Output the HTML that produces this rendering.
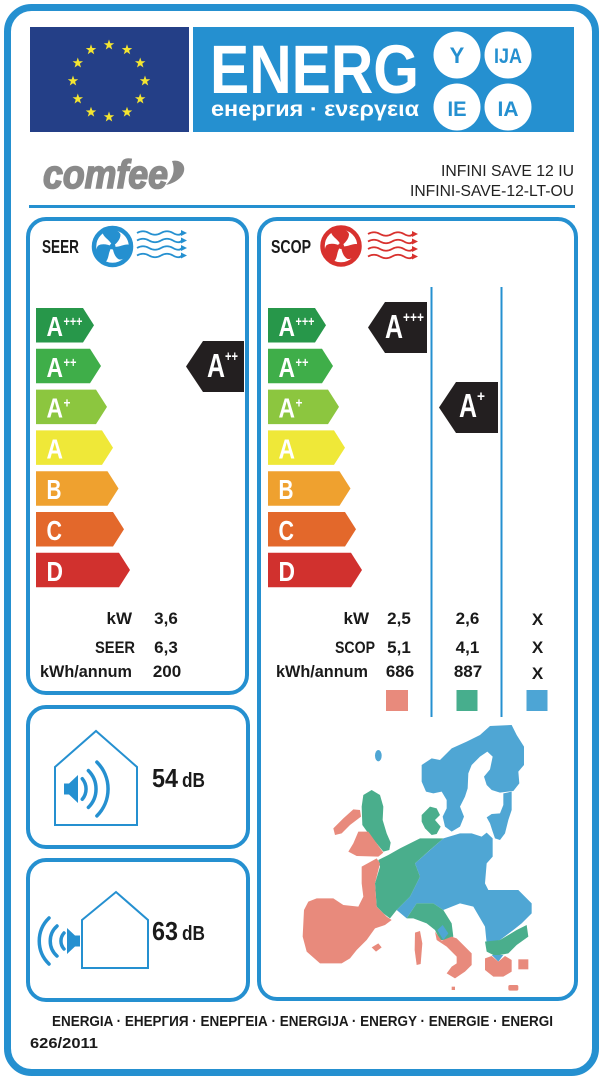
<!DOCTYPE html>
<html><head><meta charset="utf-8"><style>
html,body{margin:0;padding:0;background:#fff;}
svg{display:block;}
text{font-family:"Liberation Sans",sans-serif;}
</style></head><body>
<svg width="605" height="1080" viewBox="0 0 605 1080" xmlns="http://www.w3.org/2000/svg">
<defs>
<polygon id="st" points="0,-5.5 1.29,-1.78 5.23,-1.7 2.09,0.68 3.23,4.45 0,2.2 -3.23,4.45 -2.09,0.68 -5.23,-1.7 -1.29,-1.78" fill="#f4e531"/>
</defs>
<rect width="605" height="1080" fill="#fff"/>
<rect x="7.5" y="7.5" width="588" height="1065" rx="24" fill="none" stroke="#2590d0" stroke-width="7"/>

<!-- EU flag -->
<rect x="30" y="27" width="159" height="105" fill="#243f87"/>
<use href="#st" x="109" y="45"/><use href="#st" x="127" y="49.8"/><use href="#st" x="140.2" y="63"/>
<use href="#st" x="145" y="81"/><use href="#st" x="140.2" y="99"/><use href="#st" x="127" y="112.2"/>
<use href="#st" x="109" y="117"/><use href="#st" x="91" y="112.2"/><use href="#st" x="77.8" y="99"/>
<use href="#st" x="73" y="81"/><use href="#st" x="77.8" y="63"/><use href="#st" x="91" y="49.8"/>

<!-- ENERG box -->
<rect x="193" y="27" width="381" height="105" fill="#2590d0"/>
<text x="210" y="93" font-size="69" font-weight="bold" fill="#fff" textLength="209" lengthAdjust="spacingAndGlyphs">ENERG</text>
<text x="211" y="116" font-size="21" font-weight="bold" fill="#fff" textLength="208" lengthAdjust="spacingAndGlyphs">енергия · ενεργεια</text>
<circle cx="457" cy="55" r="23.5" fill="#fff"/>
<circle cx="508" cy="55" r="23.5" fill="#fff"/>
<circle cx="457" cy="107" r="23.5" fill="#fff"/>
<circle cx="508" cy="107" r="23.5" fill="#fff"/>
<text x="457" y="63" font-size="22" font-weight="bold" fill="#2590d0" text-anchor="middle">Y</text>
<text x="494" y="63" font-size="21" font-weight="bold" fill="#2590d0" textLength="28" lengthAdjust="spacingAndGlyphs">IJA</text>
<text x="447.5" y="116" font-size="21" font-weight="bold" fill="#2590d0" textLength="19" lengthAdjust="spacingAndGlyphs">IE</text>
<text x="497.5" y="116" font-size="21" font-weight="bold" fill="#2590d0" textLength="21" lengthAdjust="spacingAndGlyphs">IA</text>

<!-- brand -->
<text x="43" y="188" font-size="40" font-weight="bold" font-style="italic" fill="#8a8a8a" stroke="#8a8a8a" stroke-width="1.6" textLength="125" lengthAdjust="spacingAndGlyphs">comfee</text>
<path d="M172,161 C181,159 187,166 183,174 C179,181 171,184 166,185 C172,179 176,172 172,161 Z" fill="#8a8a8a"/>
<text x="441" y="176" font-size="15.5" fill="#222" textLength="133" lengthAdjust="spacingAndGlyphs">INFINI SAVE 12 IU</text>
<text x="410" y="196" font-size="15.5" fill="#222" textLength="164" lengthAdjust="spacingAndGlyphs">INFINI-SAVE-12-LT-OU</text>
<line x1="29" y1="206.5" x2="575" y2="206.5" stroke="#2590d0" stroke-width="3"/>

<!-- panels -->
<rect x="28" y="219" width="219" height="474" rx="18" fill="none" stroke="#2590d0" stroke-width="4"/>
<rect x="259" y="219" width="317" height="780" rx="18" fill="none" stroke="#2590d0" stroke-width="4"/>
<rect x="28" y="707" width="220" height="140" rx="18" fill="none" stroke="#2590d0" stroke-width="4"/>
<rect x="28" y="860" width="220" height="140" rx="18" fill="none" stroke="#2590d0" stroke-width="4"/>

<!-- SEER header -->
<text x="42" y="253" font-size="18" font-weight="bold" fill="#1a1a1a" textLength="37" lengthAdjust="spacingAndGlyphs">SEER</text>
<g transform="translate(112.5,246.5)" fill="#2590d0">
<circle r="18.5" fill="none" stroke="#2590d0" stroke-width="4.5"/>
<path d="M0,0 C-2,-7 -10,-9 -10,-15 C-5,-19 6,-18 8,-12 C8,-7 4,-3 0,0 Z"/>
<path d="M0,0 C-2,-7 -10,-9 -10,-15 C-5,-19 6,-18 8,-12 C8,-7 4,-3 0,0 Z" transform="rotate(120)"/>
<path d="M0,0 C-2,-7 -10,-9 -10,-15 C-5,-19 6,-18 8,-12 C8,-7 4,-3 0,0 Z" transform="rotate(240)"/>
<circle r="3"/>
</g>
<g fill="none" stroke="#2590d0" stroke-width="1.8">
<path d="M137,233 q6,-3.5 12,0 t12,0 t12,0 t9,0"/>
<path d="M137,240.5 q6,-3.5 12,0 t12,0 t12,0 t9,0"/>
<path d="M137,248 q6,-3.5 12,0 t12,0 t12,0 t9,0"/>
<path d="M137,255.5 q6,-3.5 12,0 t12,0 t12,0 t9,0"/>
</g>
<g fill="#2590d0">
<polygon points="181,230 187,233 181,236"/><polygon points="181,237.5 187,240.5 181,243.5"/>
<polygon points="181,245 187,248 181,251"/><polygon points="181,252.5 187,255.5 181,258.5"/>
</g>

<!-- SEER scale -->
<g>
<polygon points="36,308 83,308 94,325.3 83,342.5 36,342.5" fill="#27974a"/>
<polygon points="36,348.8 90,348.8 101,366 90,383.3 36,383.3" fill="#3fae49"/>
<polygon points="36,389.6 96,389.6 107,406.9 96,424.1 36,424.1" fill="#8cc63f"/>
<polygon points="36,430.4 102,430.4 113,447.7 102,464.9 36,464.9" fill="#efe838"/>
<polygon points="36,471.2 107.5,471.2 118.5,488.5 107.5,505.7 36,505.7" fill="#efa12f"/>
<polygon points="36,512 113,512 124,529.3 113,546.5 36,546.5" fill="#e3682b"/>
<polygon points="36,552.8 119,552.8 130,570 119,587.3 36,587.3" fill="#d1312e"/>
<g fill="#fff" font-weight="bold">
<text x="46.5" y="336" font-size="28" textLength="16.5" lengthAdjust="spacingAndGlyphs">A</text>
<text x="63.5" y="326" font-size="14" textLength="19" lengthAdjust="spacingAndGlyphs">+++</text>
<text x="46.5" y="376.8" font-size="28" textLength="16.5" lengthAdjust="spacingAndGlyphs">A</text>
<text x="63.5" y="366.8" font-size="14" textLength="13" lengthAdjust="spacingAndGlyphs">++</text>
<text x="46.5" y="417.6" font-size="28" textLength="16.5" lengthAdjust="spacingAndGlyphs">A</text>
<text x="63.5" y="407.6" font-size="14" textLength="7" lengthAdjust="spacingAndGlyphs">+</text>
<text x="46.5" y="458.4" font-size="28" textLength="16.5" lengthAdjust="spacingAndGlyphs">A</text>
<text x="46.5" y="499.2" font-size="28" textLength="15" lengthAdjust="spacingAndGlyphs">B</text>
<text x="46.5" y="540" font-size="28" textLength="15.5" lengthAdjust="spacingAndGlyphs">C</text>
<text x="46.5" y="580.8" font-size="28" textLength="16.5" lengthAdjust="spacingAndGlyphs">D</text>
</g>
</g>
<polygon points="186,366.5 203,341 244,341 244,392 203,392" fill="#231f20"/>
<text x="207" y="377" font-size="33" font-weight="bold" fill="#fff" textLength="18" lengthAdjust="spacingAndGlyphs">A</text>
<text x="225" y="361" font-size="15" font-weight="bold" fill="#fff" textLength="13" lengthAdjust="spacingAndGlyphs">++</text>

<!-- SEER data -->
<g font-size="17" font-weight="bold" fill="#1a1a1a">
<text x="132" y="624" text-anchor="end">kW</text>
<text x="135" y="653" text-anchor="end" textLength="40" lengthAdjust="spacingAndGlyphs">SEER</text>
<text x="40" y="677" textLength="92" lengthAdjust="spacingAndGlyphs">kWh/annum</text>
<text x="166" y="624" text-anchor="middle">3,6</text>
<text x="166" y="653" text-anchor="middle">6,3</text>
<text x="167" y="677" text-anchor="middle">200</text>
</g>

<!-- SCOP header -->
<text x="271" y="253" font-size="18" font-weight="bold" fill="#1a1a1a" textLength="40" lengthAdjust="spacingAndGlyphs">SCOP</text>
<g transform="translate(341,246)" fill="#d8312e">
<circle r="18.5" fill="none" stroke="#d8312e" stroke-width="4.5"/>
<path d="M0,0 C-2,-7 -10,-9 -10,-15 C-5,-19 6,-18 8,-12 C8,-7 4,-3 0,0 Z"/>
<path d="M0,0 C-2,-7 -10,-9 -10,-15 C-5,-19 6,-18 8,-12 C8,-7 4,-3 0,0 Z" transform="rotate(120)"/>
<path d="M0,0 C-2,-7 -10,-9 -10,-15 C-5,-19 6,-18 8,-12 C8,-7 4,-3 0,0 Z" transform="rotate(240)"/>
<circle r="3"/>
</g>
<g fill="none" stroke="#d8312e" stroke-width="1.8">
<path d="M368,234 q6,-3.5 12,0 t12,0 t12,0 t9,0"/>
<path d="M368,241.5 q6,-3.5 12,0 t12,0 t12,0 t9,0"/>
<path d="M368,249 q6,-3.5 12,0 t12,0 t12,0 t9,0"/>
<path d="M368,256.5 q6,-3.5 12,0 t12,0 t12,0 t9,0"/>
</g>
<g fill="#d8312e">
<polygon points="412,231 418,234 412,237"/><polygon points="412,238.5 418,241.5 412,244.5"/>
<polygon points="412,246 418,249 412,252"/><polygon points="412,253.5 418,256.5 412,259.5"/>
</g>

<!-- SCOP scale -->
<g transform="translate(232,0)">
<polygon points="36,308 83,308 94,325.3 83,342.5 36,342.5" fill="#27974a"/>
<polygon points="36,348.8 90,348.8 101,366 90,383.3 36,383.3" fill="#3fae49"/>
<polygon points="36,389.6 96,389.6 107,406.9 96,424.1 36,424.1" fill="#8cc63f"/>
<polygon points="36,430.4 102,430.4 113,447.7 102,464.9 36,464.9" fill="#efe838"/>
<polygon points="36,471.2 107.5,471.2 118.5,488.5 107.5,505.7 36,505.7" fill="#efa12f"/>
<polygon points="36,512 113,512 124,529.3 113,546.5 36,546.5" fill="#e3682b"/>
<polygon points="36,552.8 119,552.8 130,570 119,587.3 36,587.3" fill="#d1312e"/>
<g fill="#fff" font-weight="bold">
<text x="46.5" y="336" font-size="28" textLength="16.5" lengthAdjust="spacingAndGlyphs">A</text>
<text x="63.5" y="326" font-size="14" textLength="19" lengthAdjust="spacingAndGlyphs">+++</text>
<text x="46.5" y="376.8" font-size="28" textLength="16.5" lengthAdjust="spacingAndGlyphs">A</text>
<text x="63.5" y="366.8" font-size="14" textLength="13" lengthAdjust="spacingAndGlyphs">++</text>
<text x="46.5" y="417.6" font-size="28" textLength="16.5" lengthAdjust="spacingAndGlyphs">A</text>
<text x="63.5" y="407.6" font-size="14" textLength="7" lengthAdjust="spacingAndGlyphs">+</text>
<text x="46.5" y="458.4" font-size="28" textLength="16.5" lengthAdjust="spacingAndGlyphs">A</text>
<text x="46.5" y="499.2" font-size="28" textLength="15" lengthAdjust="spacingAndGlyphs">B</text>
<text x="46.5" y="540" font-size="28" textLength="15.5" lengthAdjust="spacingAndGlyphs">C</text>
<text x="46.5" y="580.8" font-size="28" textLength="16.5" lengthAdjust="spacingAndGlyphs">D</text>
</g>
</g>
<line x1="431.5" y1="287" x2="431.5" y2="717" stroke="#2590d0" stroke-width="2"/>
<line x1="501.5" y1="287" x2="501.5" y2="717" stroke="#2590d0" stroke-width="2"/>
<polygon points="368,327.5 385,302 427,302 427,353 385,353" fill="#231f20"/>
<text x="385" y="338" font-size="33" font-weight="bold" fill="#fff" textLength="18" lengthAdjust="spacingAndGlyphs">A</text>
<text x="403" y="322" font-size="15" font-weight="bold" fill="#fff" textLength="21" lengthAdjust="spacingAndGlyphs">+++</text>
<polygon points="439,407.5 456,382 498,382 498,433 456,433" fill="#231f20"/>
<text x="459" y="417" font-size="33" font-weight="bold" fill="#fff" textLength="18" lengthAdjust="spacingAndGlyphs">A</text>
<text x="477" y="401" font-size="15" font-weight="bold" fill="#fff" textLength="8" lengthAdjust="spacingAndGlyphs">+</text>

<!-- SCOP data -->
<g font-size="17" font-weight="bold" fill="#1a1a1a">
<text x="369" y="624" text-anchor="end">kW</text>
<text x="375" y="653" text-anchor="end" textLength="40" lengthAdjust="spacingAndGlyphs">SCOP</text>
<text x="276" y="677" textLength="92" lengthAdjust="spacingAndGlyphs">kWh/annum</text>
<text x="399" y="624" text-anchor="middle">2,5</text>
<text x="399" y="653" text-anchor="middle">5,1</text>
<text x="400" y="677" text-anchor="middle">686</text>
<text x="467.5" y="624" text-anchor="middle">2,6</text>
<text x="467.5" y="653" text-anchor="middle">4,1</text>
<text x="468" y="677" text-anchor="middle">887</text>
<text x="537.5" y="625" text-anchor="middle">X</text>
<text x="537.5" y="653" text-anchor="middle">X</text>
<text x="537.5" y="679" text-anchor="middle">X</text>
</g>
<rect x="386" y="690" width="22" height="21" fill="#e88a7c"/>
<rect x="456.5" y="690" width="21" height="21" fill="#47ae8d"/>
<rect x="526.5" y="690" width="21" height="21" fill="#4da5d5"/>

<!-- map -->
<g transform="translate(300,710) scale(0.33333)">
<g fill="#4fa6d4">
<ellipse cx="235" cy="137" rx="10" ry="17"/>
<path d="M365,165 L395,145 L420,150 L455,115 L500,95 L540,75 L570,48 L635,45 L650,75 L672,110 L672,165 L655,185 L658,220 L640,243 L600,248 L575,240 L560,225 L552,200 L570,178 L578,140 L562,125 L540,140 L515,165 L505,190 L503,235 L495,260 L480,290 L492,320 L480,350 L455,365 L435,350 L428,320 L440,295 L440,270 L425,245 L400,250 L378,245 L365,215 Z"/>
<path d="M610,250 L635,245 L635,300 L625,330 L615,370 L600,390 L585,385 L578,365 L570,340 L560,322 L575,312 L600,310 L610,285 Z"/>
<path d="M430,385 L480,370 L515,370 L545,380 L560,368 L578,385 L578,440 L560,460 L555,520 L565,540 L655,540 L695,580 L695,610 L665,640 L640,660 L600,690 L560,700 L555,650 L520,590 L480,580 L430,600 L400,580 L350,580 L320,625 L290,600 L330,560 L360,500 L345,460 Z"/>
<path d="M575,735 L610,735 L595,755 Z"/>
</g>
<g fill="#4aae8c">
<path d="M190,255 L215,240 L240,255 L250,290 L248,330 L260,370 L272,398 L268,420 L250,425 L230,400 L205,370 L187,345 L185,290 Z"/>
<path d="M365,315 L390,290 L410,295 L420,315 L405,330 L422,350 L410,372 L395,375 L375,355 L365,335 Z"/>
<path d="M235,450 L265,435 L300,415 L360,385 L430,385 L390,420 L345,460 L360,500 L330,560 L290,600 L270,625 L250,610 L230,590 L225,520 L240,470 Z"/>
<path d="M320,625 L350,580 L400,580 L430,600 L455,640 L460,680 L440,690 L420,690 L405,660 L380,640 L340,625 Z"/>
<path d="M555,695 L600,690 L650,660 L680,645 L685,680 L650,705 L625,730 L600,735 L580,735 L560,725 Z"/>
<path d="M72,625 L92,608 L108,610 L130,645 L128,665 L110,668 L88,650 Z"/>
<path d="M165,620 L180,605 L195,607 L205,630 L195,642 L178,640 Z"/>
<path d="M100,690 L118,670 L138,690 L125,710 L103,708 Z"/>
</g>
<path d="M412,660 L428,645 L445,670 L430,690 Z" fill="#4fa6d4"/>
<g fill="#e88a7c">
<path d="M100,355 L130,325 L160,298 L180,300 L183,320 L150,345 L125,370 L105,375 Z"/>
<path d="M145,425 L160,400 L175,365 L205,365 L230,400 L250,428 L235,440 L170,438 Z"/>
<path d="M185,470 L230,445 L240,460 L225,520 L230,590 L260,620 L275,630 L255,645 L225,655 L200,690 L170,720 L150,745 L125,760 L60,760 L20,725 L8,680 L12,600 L25,575 L50,565 L100,565 L130,585 L175,590 L190,560 L185,520 Z"/>
<path d="M405,665 L425,692 L455,680 L470,685 L515,730 L515,765 L495,785 L465,805 L440,790 L455,770 L470,760 L470,740 L440,710 L410,690 Z"/>
<path d="M345,668 L360,663 L367,700 L362,762 L350,765 L344,720 Z"/>
<path d="M215,712 L235,700 L245,712 L228,725 Z"/>
<path d="M555,745 L575,738 L595,755 L615,738 L635,750 L635,785 L610,800 L580,800 L555,780 Z"/>
<rect x="655" y="748" width="30" height="30"/>
<rect x="625" y="825" width="30" height="17" rx="5"/>
<rect x="455" y="830" width="10" height="10"/>
</g>
</g>

<!-- noise panel 1 -->
<polygon points="55,767 96,731 137,767 137,825 55,825" fill="none" stroke="#2590d0" stroke-width="2"/>
<polygon points="64,783.5 69,783.5 78,775 78,803 69,794.5 64,794.5" fill="#2590d0"/>
<g fill="none" stroke="#2590d0" stroke-width="3.5" stroke-linecap="round">
<path d="M82.3,778.7 A16,16 0 0 1 82.3,799.3"/>
<path d="M88.4,770.6 A26,26 0 0 1 88.4,807.4"/>
<path d="M96.9,762.1 A38,38 0 0 1 96.9,815.9"/>
</g>
<text x="152" y="787" font-size="26" font-weight="bold" fill="#1a1a1a" textLength="26" lengthAdjust="spacingAndGlyphs">54</text>
<text x="182" y="787" font-size="20" font-weight="bold" fill="#1a1a1a" textLength="23" lengthAdjust="spacingAndGlyphs">dB</text>

<!-- noise panel 2 -->
<polygon points="82,920 116,892 148,920 148,968 82,968" fill="none" stroke="#2590d0" stroke-width="2"/>
<polygon points="80,935.5 75,935.5 67,928 67,954 75,946.5 80,946.5" fill="#2590d0"/>
<g fill="none" stroke="#2590d0" stroke-width="3.5" stroke-linecap="round">
<path d="M64,933 A12,12 0 0 0 64,949"/>
<path d="M57,926 A20,20 0 0 0 57,956"/>
<path d="M49,918 A32,32 0 0 0 49,964"/>
</g>
<text x="152" y="940" font-size="26" font-weight="bold" fill="#1a1a1a" textLength="26" lengthAdjust="spacingAndGlyphs">63</text>
<text x="182" y="940" font-size="20" font-weight="bold" fill="#1a1a1a" textLength="23" lengthAdjust="spacingAndGlyphs">dB</text>

<!-- footer -->
<text x="52" y="1026" font-size="15" font-weight="bold" fill="#1a1a1a" textLength="501" lengthAdjust="spacingAndGlyphs">ENERGIA · ЕНЕРГИЯ · ΕΝΕΡΓΕΙΑ · ENERGIJA · ENERGY · ENERGIE · ENERGI</text>
<text x="30" y="1048" font-size="15" font-weight="bold" fill="#1a1a1a" textLength="68" lengthAdjust="spacingAndGlyphs">626/2011</text>
</svg>
</body></html>
